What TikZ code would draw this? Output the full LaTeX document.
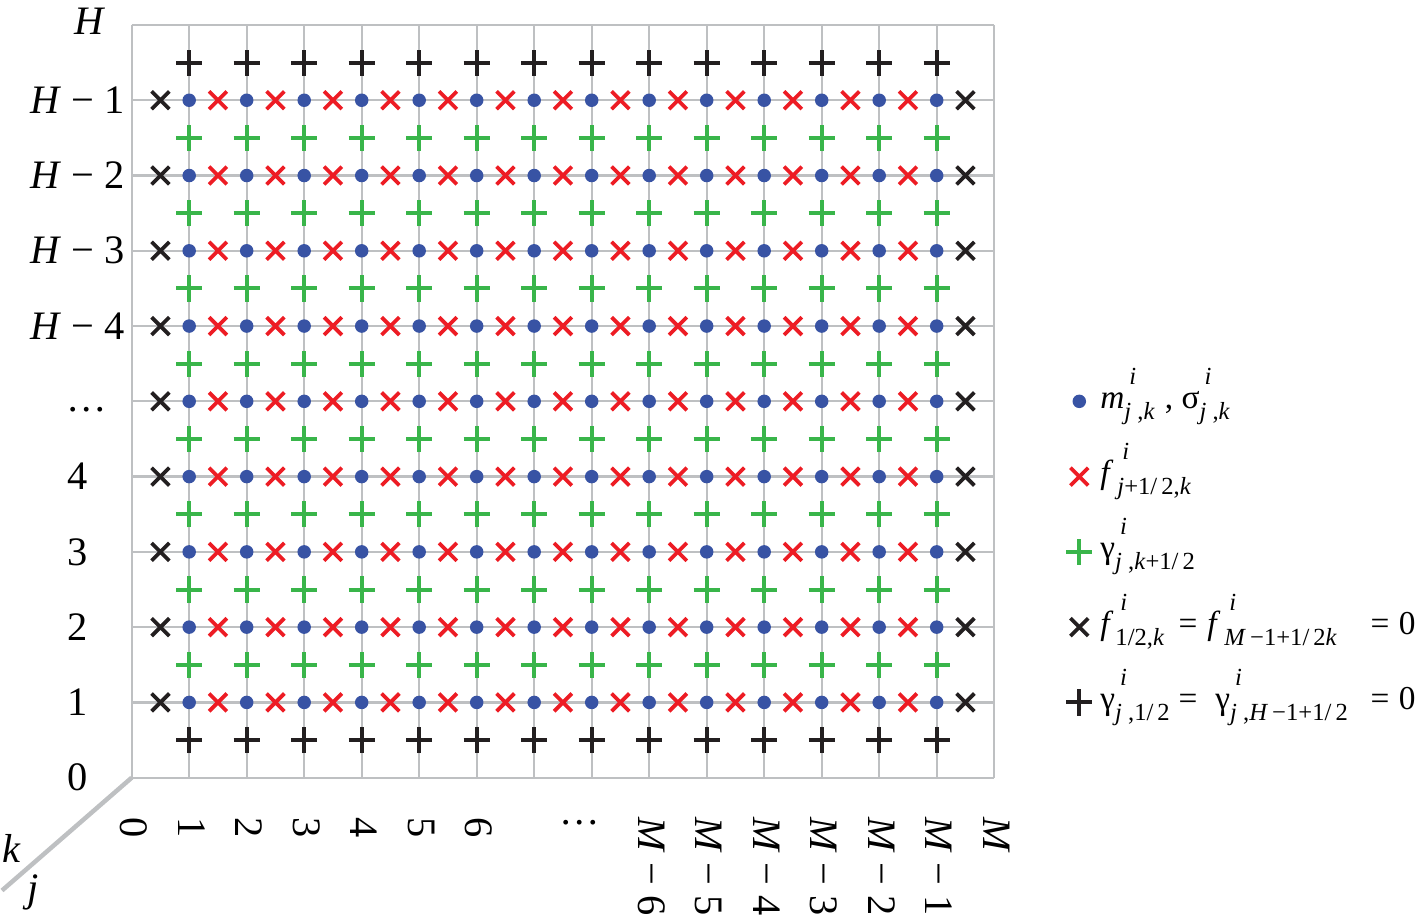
\documentclass[tikz,border=0pt]{standalone}
\usepackage{fontspec}
\setmainfont{Liberation Serif}
\usetikzlibrary{shapes.misc}
\definecolor{dotblue}{RGB}{56,83,164}
\definecolor{fluxred}{RGB}{237,28,36}
\definecolor{fluxgreen}{RGB}{57,181,74}
\definecolor{bcblack}{RGB}{35,31,32}
\definecolor{gridgray}{RGB}{190,192,194}
\tikzset{
  gridline/.style = {draw=gridgray, line width=0.045cm},
  axisline/.style = {draw=gridgray, line width=0.09cm},
  mdot/.style     = {circle, fill=dotblue, inner sep=0pt, minimum size=0.27cm},
  xmark/.style    = {cross out, draw=#1, line width=0.075cm, inner sep=0pt, minimum size=0.28cm},
  pmark/.style    = {cross out, draw=#1, line width=0.08cm, inner sep=0pt, minimum size=0.29cm, rotate=45},
  klabel/.style   = {inner sep=0pt, font=\fontsize{23}{23}\selectfont},
  jlabel/.style   = {klabel, rotate=-90, anchor=west},
  legtext/.style  = {inner sep=0pt, anchor=base west, font=\fontsize{19}{19}\selectfont}
}
\newcommand{\supsub}[4][0pt]{#2\hspace{#1}\rlap{\hspace{0.1cm}\raisebox{0.48cm}{\fontsize{14}{14}\selectfont #3}}\raisebox{-0.22cm}{\fontsize{14}{14}\selectfont #4}}
\begin{document}
\begin{tikzpicture}[x=1.15cm, y=1.5054cm]
  \useasboundingbox (-2.634cm,-2.846cm) rectangle (25.886cm,15.554cm);
  \foreach \j in {0,...,15}
    \draw[gridline] (\j,0) -- (\j,10);
  \foreach \k in {0,...,10}
    \draw[gridline] (0,\k) -- (15,\k);
  \coordinate (o) at (0,0);
  \coordinate (jk) at (-2.256,-1.499);
  \draw[axisline] (o) -- (jk);
  \node[klabel] (k) at (-2.082,-0.947) {\textit{k}};
  \node[klabel] (j) at (-1.717,-1.518) {\textit{j}};

  % row and column labels
  \foreach \k/\txt in {0/0, 1/1, 2/2, 3/3, 4/4, 6/{\textit{H} − 4}, 7/{\textit{H} − 3}, 8/{\textit{H} − 2}, 9/{\textit{H} − 1}}
    \node[klabel] (row-\k) at (-0.934,\k) {\txt};
  \node[klabel] (row-5) at (-0.777,4.893) {\dots};
  \node[klabel] (row-10) at (-0.723,10.05) {\textit{H}};
  \foreach \j/\txt in {0/0, 1/1, 2/2, 3/3, 4/4, 5/5, 6/6, 9/{\textit{M} − 6}, 10/{\textit{M} − 5}, 11/{\textit{M} − 4}, 12/{\textit{M} − 3}, 13/{\textit{M} − 2}, 14/{\textit{M} − 1}, 15/\textit{M}}
    \node[jlabel] (col-\j) at (\j+0.04,-0.52) {\txt};
  \node[klabel] (col-dots) at (7.787,-0.602) {\dots};

  % unknowns and fluxes
  \foreach \k in {1,...,9}{
    \foreach \j in {1,...,14}
      \node[mdot] (m-\j-\k) at (\j,\k) {};
    \foreach \j in {1,...,13}
      \node[xmark=fluxred] (f-\j-\k) at (\j+0.5,\k) {};
    \node[xmark=bcblack] (fl-\k) at (0.5,\k) {};
    \node[xmark=bcblack] (fr-\k) at (14.5,\k) {};
  }
  \foreach \j in {1,...,14}{
    \foreach \k in {1,...,8}
      \node[pmark=fluxgreen] (g-\j-\k) at (\j,\k+0.5) {};
    \node[pmark=bcblack] (gb-\j) at (\j,0.5) {};
    \node[pmark=bcblack] (gt-\j) at (\j,9.5) {};
  }

  % legend
  \node[mdot] (leg-m) at (16.48,5) {};
  \node[xmark=fluxred] (leg-f) at (16.48,4) {};
  \node[pmark=fluxgreen] (leg-g) at (16.48,3) {};
  \node[xmark=bcblack] (leg-fb) at (16.48,2) {};
  \node[pmark=bcblack] (leg-gb) at (16.48,1) {};
  \node[legtext] (txt-m) at (16.84,4.907) {\supsub{\textit{m}}{\textit{i}}{\textit{j} ,\textit{k}}\hspace{0.2cm}, \supsub{σ}{\textit{i}}{\textit{j} ,\textit{k}}};
  \node[legtext] (txt-f) at (16.84,3.907) {\supsub[0.08cm]{\textit{f}}{\textit{i}}{\textit{j}+1/\,2,\textit{k}}};
  \node[legtext] (txt-g) at (16.84,2.907) {\supsub{γ}{\textit{i}}{\textit{j} ,\textit{k}+1/\,2}};
  \node[legtext] (txt-fb) at (16.84,1.907) {\supsub[0.04cm]{\textit{f}}{\textit{i}}{1/2,\textit{k}}};
  \node[legtext] (eq-fb) at (18.20,1.907) {=};
  \node[legtext] (rhs-fb) at (18.70,1.907) {\supsub[0.08cm]{\textit{f}}{\textit{i}}{\textit{M}\,−1+1/\,2\textit{k}}};
  \node[legtext] (eqz-fb) at (21.54,1.907) {=};
  \node[legtext] (zero-fb) at (22.03,1.907) {0};
  \node[legtext] (txt-gb) at (16.84,0.907) {\supsub{γ}{\textit{i}}{\textit{j} ,1/\,2}};
  \node[legtext] (eq-gb) at (18.20,0.907) {=};
  \node[legtext] (rhs-gb) at (18.84,0.907) {\supsub{γ}{\textit{i}}{\textit{j} ,\textit{H}\,−1+1/\,2}};
  \node[legtext] (eqz-gb) at (21.54,0.907) {=};
  \node[legtext] (zero-gb) at (22.03,0.907) {0};
\end{tikzpicture}
\end{document}
